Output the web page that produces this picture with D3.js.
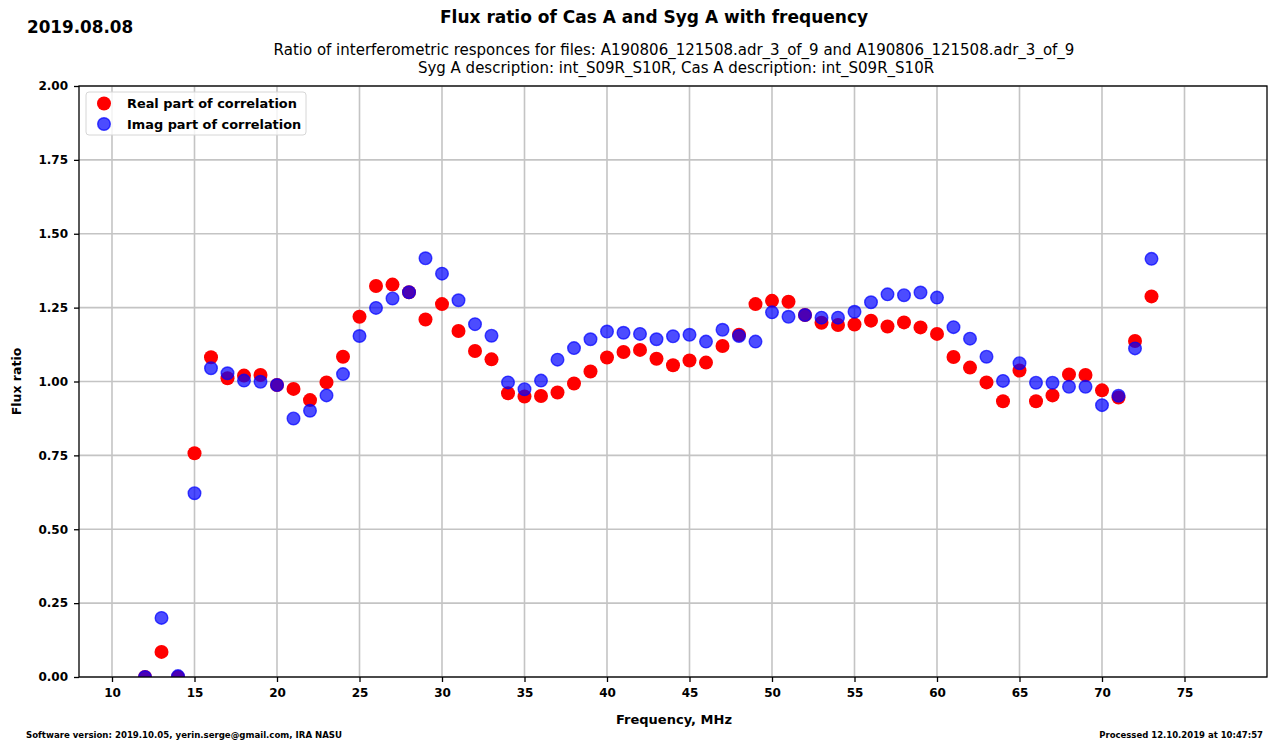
<!DOCTYPE html>
<html>
<head>
<meta charset="utf-8">
<script src="https://cdn.jsdelivr.net/npm/d3@7"></script>
<style>
  body { margin: 0; background: #fff; }
  svg { display: block; font-family: "DejaVu Sans", sans-serif; }
</style>
</head>
<body>
<svg id="chart" width="1273" height="740"></svg>
<script>
// Frequencies (MHz) of the measured channels
const frequencies = [12,13,14,15,16,17,18,19,20,21,22,23,24,25,26,27,28,29,30,31,32,33,34,35,36,37,38,39,40,41,42,43,44,45,46,47,48,49,50,51,52,53,54,55,56,57,58,59,60,61,62,63,64,65,66,67,68,69,70,71,72,73];

// Flux ratio from the real part of the correlation
const realPart = [0.000,0.085,0.000,0.757,1.082,1.011,1.020,1.022,0.988,0.975,0.937,0.997,1.084,1.219,1.323,1.328,1.302,1.210,1.262,1.171,1.103,1.075,
  0.960,0.949,0.951,0.963,0.993,1.034,1.081,1.100,1.107,1.077,1.055,1.071,1.064,1.120,1.158,1.262,1.273,1.270,1.225,1.199,1.191,1.193,1.206,1.186,1.200,1.183,1.161,
  1.083,1.047,0.997,0.933,1.037,0.933,0.953,1.024,1.022,0.970,0.946,1.137,1.288];

// Flux ratio from the imaginary part of the correlation
const imagPart = [0.000,0.200,0.003,0.622,1.045,1.028,1.003,0.999,0.988,0.875,0.901,0.953,1.025,1.154,1.249,1.281,1.302,1.417,1.365,1.275,1.194,1.155,
  0.997,0.974,1.003,1.074,1.113,1.143,1.169,1.165,1.161,1.143,1.153,1.158,1.135,1.175,1.154,1.135,1.234,1.219,1.225,1.216,1.216,1.236,1.268,1.295,1.292,1.301,1.284,
  1.184,1.145,1.084,1.002,1.062,0.996,0.996,0.982,0.982,0.920,0.952,1.112,1.415];

const xTicks = [10,15,20,25,30,35,40,45,50,55,60,65,70,75];
const yTicks = [0,0.25,0.5,0.75,1.0,1.25,1.5,1.75,2.0];

const seriesNames = ["Real part of correlation", "Imag part of correlation"];

const svg = d3.select("#chart");
const plotL = 79, plotR = 1267, plotT = 86, plotB = 677;

const x = d3.scaleLinear().domain([8, 80]).range([plotL, plotR]);
const y = d3.scaleLinear().domain([0, 2]).range([plotB, plotT]);

// Header texts
svg.append("text").attr("x", 27).attr("y", 33)
  .attr("font-size", 16.8).attr("font-weight", "bold").text("2019.08.08");
svg.append("text").attr("x", 654).attr("y", 23).attr("text-anchor", "middle")
  .attr("font-size", 17).attr("font-weight", "bold")
  .text("Flux ratio of Cas A and Syg A with frequency");
svg.append("text").attr("x", 674).attr("y", 55).attr("text-anchor", "middle")
  .attr("font-size", 15)
  .text("Ratio of interferometric responces for files: A190806_121508.adr_3_of_9 and A190806_121508.adr_3_of_9");
svg.append("text").attr("x", 676).attr("y", 73).attr("text-anchor", "middle")
  .attr("font-size", 15)
  .text("Syg A description: int_S09R_S10R, Cas A description: int_S09R_S10R");

// Grid
const grid = svg.append("g").attr("stroke", "#c4c4c4").attr("stroke-width", 1.6);
grid.selectAll("line.gx").data(xTicks).join("line").attr("class", "gx")
  .attr("x1", d => x(d)).attr("x2", d => x(d)).attr("y1", plotT).attr("y2", plotB);
grid.selectAll("line.gy").data(yTicks).join("line").attr("class", "gy")
  .attr("x1", plotL).attr("x2", plotR).attr("y1", d => y(d)).attr("y2", d => y(d));

// Points, clipped to the plotting area
svg.append("clipPath").attr("id", "plotclip")
  .append("rect").attr("x", plotL).attr("y", plotT).attr("width", plotR - plotL).attr("height", plotB - plotT);

const pts = svg.append("g").attr("clip-path", "url(#plotclip)");
pts.selectAll("circle.re").data(frequencies).join("circle")
  .attr("class", "re")
  .attr("cx", d => x(d)).attr("cy", (d, i) => y(realPart[i])).attr("r", 7)
  .attr("fill", "#ff0000");
pts.selectAll("circle.im").data(frequencies).join("circle")
  .attr("class", "im")
  .attr("cx", d => x(d)).attr("cy", (d, i) => y(imagPart[i])).attr("r", 6.3)
  .attr("fill", "#0000ff").attr("fill-opacity", 0.7)
  .attr("stroke", "#0000ff").attr("stroke-opacity", 0.7).attr("stroke-width", 1.4);

// Axes
const xAxis = d3.axisBottom(x).tickValues(xTicks).tickFormat(d3.format("d")).tickSize(5).tickPadding(6);
const yAxis = d3.axisLeft(y).tickValues(yTicks).tickFormat(d3.format(".2f")).tickSize(5).tickPadding(6);

const gx = svg.append("g").attr("transform", `translate(0,${plotB})`).call(xAxis);
const gy = svg.append("g").attr("transform", `translate(${plotL},0)`).call(yAxis);
[gx, gy].forEach(g => {
  g.select(".domain").remove();
  g.selectAll(".tick line").attr("stroke", "#000").attr("stroke-width", 1.3);
  g.selectAll(".tick text").attr("font-size", 12).attr("font-weight", "bold")
    .attr("font-family", "DejaVu Sans, sans-serif").attr("fill", "#000");
});

// Frame
svg.append("rect").attr("x", plotL).attr("y", plotT).attr("width", plotR - plotL).attr("height", plotB - plotT)
  .attr("fill", "none").attr("stroke", "#000").attr("stroke-width", 1.3);

// Axis titles
svg.append("text").attr("x", 674).attr("y", 724).attr("text-anchor", "middle")
  .attr("font-size", 13).attr("font-weight", "bold").text("Frequency, MHz");
svg.append("text").attr("transform", `translate(21,${(plotT + plotB) / 2}) rotate(-90)`)
  .attr("text-anchor", "middle").attr("font-size", 12.5).attr("font-weight", "bold").text("Flux ratio");

// Legend
const lg = svg.append("g");
lg.append("rect").attr("x", 86).attr("y", 92).attr("width", 220).attr("height", 43).attr("rx", 3)
  .attr("fill", "#fff").attr("fill-opacity", 0.8).attr("stroke", "#d6d6d6").attr("stroke-width", 1);
lg.append("circle").attr("cx", 104).attr("cy", 103.5).attr("r", 7).attr("fill", "#ff0000");
lg.append("circle").attr("cx", 104).attr("cy", 124).attr("r", 6.3)
  .attr("fill", "#0000ff").attr("fill-opacity", 0.7)
  .attr("stroke", "#0000ff").attr("stroke-opacity", 0.7).attr("stroke-width", 1.4);
lg.selectAll("text").data(seriesNames).join("text")
  .attr("x", 127).attr("y", (d, i) => 108 + i * 20.5)
  .attr("font-size", 12.9).attr("font-weight", "bold").text(d => d);

// Footer
svg.append("text").attr("x", 26).attr("y", 738).attr("font-size", 8.6).attr("font-weight", "bold")
  .text("Software version: 2019.10.05, yerin.serge@gmail.com, IRA NASU");
svg.append("text").attr("x", 1263).attr("y", 738).attr("text-anchor", "end").attr("font-size", 8.5).attr("font-weight", "bold")
  .text("Processed 12.10.2019 at 10:47:57");
</script>
</body>
</html>
